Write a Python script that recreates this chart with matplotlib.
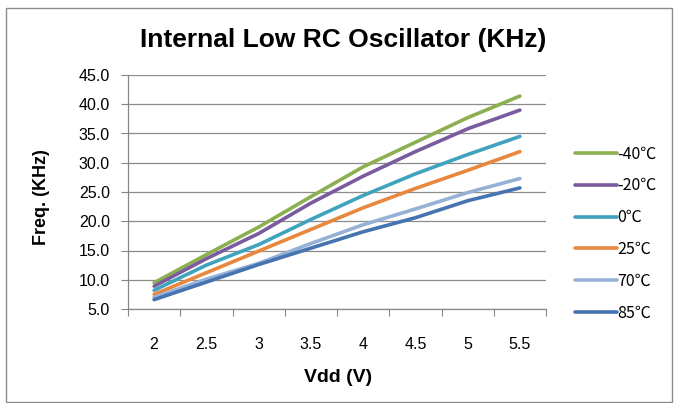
import matplotlib
matplotlib.use("Agg")
import matplotlib.pyplot as plt
from matplotlib.patches import Rectangle

vdd = ["2", "2.5", "3", "3.5", "4", "4.5", "5", "5.5"]
temps = ["-40℃", "-20℃", "0℃", "25℃", "70℃", "85℃"]
f_m40 = [9.5, 14.3, 19.0, 24.2, 29.3, 33.5, 37.7, 41.4]
f_m20 = [8.9, 13.6, 17.9, 23.1, 27.7, 31.9, 35.8, 39.0]
f_0 = [8.2, 12.5, 16.0, 20.3, 24.4, 28.1, 31.4, 34.5]
f_25 = [7.5, 11.2, 14.9, 18.6, 22.3, 25.6, 28.7, 31.9]
f_70 = [7.0, 10.1, 12.8, 16.2, 19.4, 22.1, 24.9, 27.3]
f_85 = [6.6, 9.6, 12.6, 15.4, 18.2, 20.6, 23.5, 25.7]
series = [f_m40, f_m20, f_0, f_25, f_70, f_85]
colors = ["#8CB04F", "#7A5C9E", "#3FA3BD", "#E8873E", "#95B1D6", "#4574B0"]

FONT = ["Liberation Sans", "Noto Sans CJK SC", "DejaVu Sans"]
plt.rcParams["font.family"] = FONT

fig = plt.figure(figsize=(6.74, 4.03), dpi=100)
W, H = 674, 403
fig.patches.append(Rectangle((6 / W, 1 / H), 666 / W, 394 / H, transform=fig.transFigure,
                             fill=False, edgecolor="#8C8C8C", linewidth=1.0))

ax = fig.add_axes([128 / W, 1 - 309 / H, (546 - 128) / W, (309 - 75) / H])
xs = list(range(len(vdd)))
for vals, c, lab in zip(series, colors, temps):
    ax.plot(xs, vals, color=c, linewidth=2.6, label=lab, solid_capstyle="round", zorder=3)

ax.set_ylim(5, 45)
ax.set_yticks(range(5, 46, 5))
ax.set_yticklabels([f"{v:.1f}" for v in range(5, 46, 5)], fontsize=11.5)
ax.set_xlim(-0.5, len(vdd) - 0.5)
ax.set_xticks([i - 0.5 for i in range(len(vdd) + 1)])
ax.set_xticklabels([])
ax.set_xticks(xs, minor=True)
ax.set_xticklabels(vdd, minor=True, fontsize=11.5)
ax.tick_params(axis="x", which="major", length=5, color="#878787", direction="out")
ax.tick_params(axis="x", which="minor", length=0, pad=20)
ax.tick_params(axis="y", length=5, color="#878787", direction="out", pad=8)
ax.grid(axis="y", color="#8C8C8C", linewidth=0.9)
ax.set_axisbelow(True)
for s in ["top", "right"]:
    ax.spines[s].set_visible(False)
for s in ["left", "bottom"]:
    ax.spines[s].set_color("#878787")
    ax.spines[s].set_linewidth(0.9)

fig.text(343 / W, 1 - 40 / H, "Internal Low RC Oscillator (KHz)", ha="center", va="center",
         fontsize=19, fontweight="bold")
fig.text(42 / W, 1 - 197 / H, "Freq. (KHz)", ha="center", va="center", rotation=90,
         fontsize=13, fontweight="bold")
fig.text(338 / W, 1 - 378 / H, "Vdd (V)", ha="center", va="center",
         fontsize=14, fontweight="bold")

leg = ax.legend(loc="upper left", bbox_to_anchor=(569 / W, 1 - 139 / H), bbox_transform=fig.transFigure,
                frameon=False, handlelength=2.6, handletextpad=0.05,
                labelspacing=0.93, borderaxespad=0,
                prop={"family": ["Noto Sans CJK SC"], "size": 11.5})

fig.savefig("out.png", dpi=100)
